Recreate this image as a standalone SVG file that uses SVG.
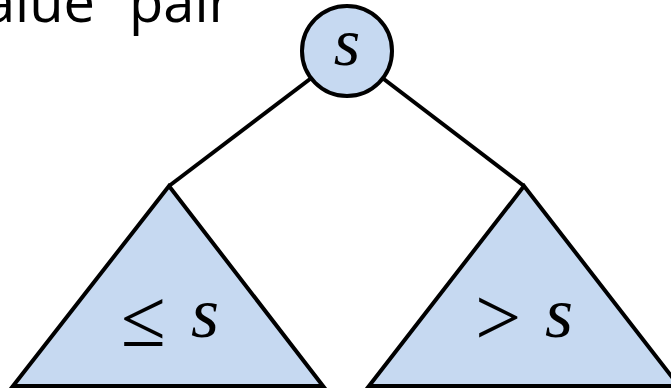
<svg xmlns="http://www.w3.org/2000/svg" width="671" height="388" viewBox="0 0 671 388">
<style>
.shape{fill:#c6d9f1;stroke:#000;stroke-width:4;stroke-linejoin:miter}
.edge{stroke:#000;stroke-width:4;fill:none}
.title{font-family:"Open Sans",sans-serif;font-size:56px;fill:#000}
.math{font-family:"Liberation Serif",serif;font-size:72px;fill:#000}
.rel{font-size:82px}
.var{font-style:italic}
</style>
<rect width="671" height="388" fill="#fff"/>
<text class="title" y="22"><tspan x="-16">alue</tspan><tspan x="129">pair</tspan></text>
<g id="connectors">
<line class="edge" x1="347" y1="51" x2="169" y2="186"/>
<line class="edge" x1="347" y1="51" x2="524" y2="186"/>
</g>
<g id="root">
<circle class="shape" cx="347" cy="51" r="45"/>
<text class="math var" x="347" y="65" text-anchor="middle" style="font-size:68px">s</text>
</g>
<g id="left">
<polygon class="shape" points="169,186 13,386 323,386"/>
<text class="math"><tspan class="rel" x="121" y="346">≤</tspan><tspan class="var" x="191" y="337">s</tspan></text>
</g>
<g id="right">
<polygon class="shape" points="524,186 369,386 679,386"/>
<text class="math"><tspan class="rel" x="475" y="345">&gt;</tspan><tspan class="var" x="545" y="337">s</tspan></text>
</g>
</svg>
